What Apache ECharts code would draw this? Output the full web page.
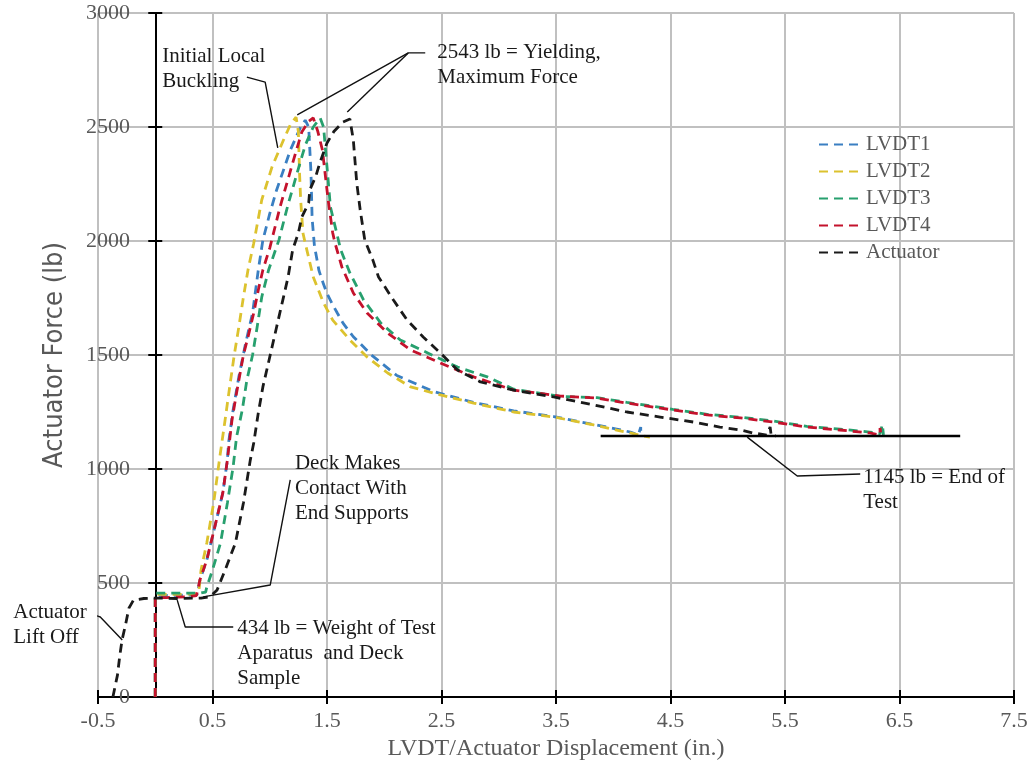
<!DOCTYPE html>
<html><head><meta charset="utf-8">
<script src="https://cdn.jsdelivr.net/npm/echarts@6/dist/echarts.min.js"></script>
<style>html,body{margin:0;padding:0;background:#fff}#c{width:1030px;height:771px}</style>
</head><body><div id="c"></div>
<script>
// ---------- data (displacement in., force lb) ----------
const seriesNames = ['LVDT1', 'LVDT2', 'LVDT3', 'LVDT4', 'Actuator'];
const seriesColors = ['#3a7fc2', '#dcc22e', '#27a06e', '#c4122c', '#1a1a1a'];

const lvdt1 = [[0,0],[0,445],[0.1,445],[0.2,446],[0.3,447],[0.37,450],[0.39,513],[0.45,601],[0.52,746],[0.59,895],[0.63,1039],[0.64,1114],[0.68,1259],[0.73,1404],[0.79,1553],[0.85,1684],[0.90,1873],[0.94,2004],[1.0,2120],[1.06,2224],[1.12,2311],[1.18,2399],[1.27,2500],[1.31,2530],[1.34,2500],[1.35,2400],[1.36,2300],[1.37,2100],[1.39,1980],[1.43,1870],[1.47,1810],[1.50,1770],[1.55,1720],[1.59,1684],[1.64,1640],[1.73,1580],[1.90,1495],[2.11,1410],[2.43,1340],[2.78,1292],[3.13,1255],[3.48,1230],[3.83,1195],[4.03,1175],[4.15,1162],[4.22,1150],[4.24,1184],[4.24,1140]];
const lvdt2 = [[0,0],[0,450],[0.1,450],[0.2,450],[0.3,451],[0.36,452],[0.38,461],[0.40,557],[0.45,675],[0.51,851],[0.56,1039],[0.61,1215],[0.65,1360],[0.69,1500],[0.73,1623],[0.77,1754],[0.81,1873],[0.86,1990],[0.93,2180],[1.02,2325],[1.12,2443],[1.18,2510],[1.23,2543],[1.25,2480],[1.26,2300],[1.27,2180],[1.29,2035],[1.31,1990],[1.38,1842],[1.47,1728],[1.55,1653],[1.70,1566],[1.85,1491],[2.03,1421],[2.23,1360],[2.49,1325],[2.78,1289],[3.13,1250],[3.48,1228],[3.83,1193],[4.03,1171],[4.15,1158],[4.26,1145],[4.32,1140]];
const lvdt3 = [[0,0],[0,456],[0.2,456],[0.4,456],[0.44,460],[0.45,482],[0.50,557],[0.57,675],[0.63,851],[0.68,1009],[0.71,1140],[0.76,1259],[0.80,1390],[0.85,1500],[0.89,1623],[0.93,1754],[0.99,1873],[1.08,2004],[1.16,2160],[1.24,2300],[1.31,2420],[1.38,2500],[1.44,2540],[1.47,2500],[1.50,2325],[1.53,2149],[1.62,1961],[1.70,1860],[1.82,1741],[1.97,1640],[2.14,1566],[2.38,1509],[2.64,1447],[2.90,1404],[3.13,1350],[3.54,1318],[3.86,1313],[4.12,1292],[4.52,1262],[4.82,1240],[5.11,1227],[5.40,1210],[5.69,1187],[5.98,1175],[6.24,1162],[6.33,1155],[6.35,1195],[6.36,1150]];
const lvdt4 = [[0,0],[0,436],[0.1,436],[0.2,438],[0.3,440],[0.36,445],[0.39,513],[0.45,601],[0.52,746],[0.59,895],[0.63,1039],[0.67,1215],[0.71,1333],[0.77,1500],[0.81,1579],[0.86,1684],[0.90,1785],[0.94,1873],[1.0,1969],[1.09,2149],[1.20,2342],[1.28,2478],[1.34,2525],[1.38,2540],[1.42,2480],[1.46,2399],[1.51,2180],[1.55,2035],[1.57,1991],[1.63,1886],[1.73,1772],[1.85,1684],[2.03,1596],[2.23,1522],[2.49,1465],[2.78,1404],[3.13,1346],[3.54,1320],[3.86,1311],[4.12,1289],[4.52,1259],[4.82,1237],[5.11,1224],[5.40,1206],[5.69,1184],[5.98,1171],[6.24,1158],[6.33,1149],[6.33,1180],[6.34,1145]];
const actuator = [[-0.37,0],[-0.33,96],[-0.31,180],[-0.29,250],[-0.26,316],[-0.23,390],[-0.19,425],[-0.1,432],[0,434],[0.2,432],[0.4,434],[0.48,440],[0.54,469],[0.61,557],[0.70,675],[0.77,851],[0.83,1039],[0.86,1114],[0.90,1246],[0.94,1360],[1.0,1491],[1.06,1623],[1.12,1754],[1.16,1842],[1.20,1961],[1.25,2035],[1.28,2105],[1.34,2167],[1.35,2224],[1.40,2281],[1.44,2346],[1.50,2430],[1.56,2480],[1.64,2522],[1.70,2535],[1.73,2443],[1.76,2254],[1.79,2136],[1.83,2004],[1.90,1917],[1.95,1842],[2.08,1741],[2.20,1653],[2.34,1579],[2.49,1509],[2.64,1434],[2.84,1382],[3.13,1346],[3.48,1316],[3.83,1281],[4.12,1250],[4.41,1228],[4.70,1206],[4.93,1184],[5.11,1171],[5.22,1158],[5.34,1149],[5.37,1184],[5.38,1145],[5.42,1145]];
const endLine = [[3.89,1145],[7.03,1145]];

// axis ticks
const xMin = -0.5, xMax = 7.5, xStep = 1;
const yMin = 0, yMax = 3000, yStep = 500;

// annotations: text anchor (top-left, data coords) and leader polylines (data coords)
const annoTexts = [
  {text: 'Initial Local\nBuckling', at: [0.061, 2864]},
  {text: '2543 lb = Yielding,\nMaximum Force', at: [2.463, 2880]},
  {text: 'Deck Makes\nContact With\nEnd Supports', at: [1.22, 1079]},
  {text: '434 lb = Weight of Test\nAparatus  and Deck\nSample', at: [0.716, 355]},
  {text: 'Actuator\nLift Off', at: [-1.24, 425]},
  {text: '1145 lb = End of\nTest', at: [6.183, 1018]}
];
const leaders = [
  [[0.80,2719],[0.96,2697],[1.07,2408]],
  [[2.358,2825],[2.210,2825],[1.240,2553]],
  [[2.210,2825],[1.677,2566]],
  [[1.179,952],[1.004,491],[0.419,439]],
  [[0.192,425],[0.262,307],[0.681,307]],
  [[-0.611,373],[-0.480,351],[-0.288,250]],
  [[6.157,978],[5.607,969],[5.170,1140]]
];

// ---------- chart ----------
const serif = '"Liberation Serif", "Times New Roman", serif';
const gray = '#595959';
const chart = echarts.init(document.getElementById('c'), null, {renderer: 'canvas'});

const curveData = [lvdt1, lvdt2, lvdt3, lvdt4, actuator];
const series = curveData.map((d, i) => ({
  name: seriesNames[i], type: 'line', data: d, symbol: 'none', showSymbol: false,
  lineStyle: {color: seriesColors[i], width: 2.8, type: [9, 6]},
  itemStyle: {color: seriesColors[i]},
  z: 3, animation: false
}));
series.push({
  name: 'end', type: 'line', data: endLine, symbol: 'none',
  lineStyle: {color: '#000', width: 2.5, type: 'solid'}, z: 4, animation: false, silent: true
});
leaders.forEach((pl, k) => series.push({
  name: 'leader' + k, type: 'line', data: pl, symbol: 'none', clip: false,
  lineStyle: {color: '#111', width: 1.4, type: 'solid'}, z: 5, animation: false, silent: true
}));

const axisLabelStyle = {color: gray, fontFamily: serif, fontSize: 22};
chart.setOption({
  animation: false,
  backgroundColor: '#fff',
  grid: {left: 98, right: 16, top: 13, bottom: 74, containLabel: false, outerBoundsMode: 'none'},
  legend: {
    data: seriesNames, orient: 'vertical', left: 813, top: 129,
    itemWidth: 42, itemHeight: 14, itemGap: 6,
    itemStyle: {opacity: 0},
    textStyle: {fontFamily: serif, fontSize: 21, color: gray}
  },
  xAxis: [{
    type: 'value', min: xMin, max: xMax, interval: xStep, position: 'bottom',
    axisLine: {onZero: true, lineStyle: {color: '#000', width: 2}},
    axisTick: {show: true, length: 7, lineStyle: {color: '#000', width: 2}},
    axisLabel: Object.assign({margin: 13, formatter: v => String(v)}, axisLabelStyle),
    splitLine: {show: true, lineStyle: {color: '#c0c0c0', width: 2}},
    name: 'LVDT/Actuator Displacement (in.)', nameLocation: 'middle', nameGap: 38,
    nameTextStyle: {color: gray, fontFamily: serif, fontSize: 24}
  }, {
    type: 'value', min: xMin, max: xMax, interval: xStep, position: 'bottom',
    axisLine: {onZero: true, lineStyle: {color: '#000', width: 2}},
    axisTick: {show: true, inside: true, length: 7, lineStyle: {color: '#000', width: 2}},
    axisLabel: {show: false}, splitLine: {show: false}
  }],
  yAxis: [{
    type: 'value', min: yMin, max: yMax, interval: yStep, position: 'left',
    axisLine: {show: true, onZero: true, lineStyle: {color: '#000', width: 2}},
    axisTick: {show: true, length: 7, lineStyle: {color: '#000', width: 2}},
    axisLabel: Object.assign({margin: -32, formatter: v => String(v)}, axisLabelStyle),
    splitLine: {show: true, lineStyle: {color: '#c0c0c0', width: 2}},
    name: 'Actuator Force (lb)', nameLocation: 'middle', nameGap: 30,
    nameTextStyle: {color: gray, fontFamily: '"DejaVu Sans Condensed", "Liberation Sans Narrow", sans-serif', fontSize: 27}
  }, {
    type: 'value', min: yMin, max: yMax, interval: yStep, position: 'left',
    axisLine: {show: true, onZero: true, lineStyle: {color: '#000', width: 2}},
    axisTick: {show: true, inside: true, length: 7, lineStyle: {color: '#000', width: 2}},
    axisLabel: {show: false}, splitLine: {show: false}
  }],
  series: series
});

const graphics = annoTexts.map(a => {
  const p = chart.convertToPixel({xAxisIndex: 0, yAxisIndex: 0}, a.at);
  return {
    type: 'text', x: p[0], y: p[1], z: 10,
    style: {text: a.text, fill: '#1a1a1a', font: '21px ' + serif, lineHeight: 25,
            textAlign: 'left', textVerticalAlign: 'top'}
  };
});
chart.setOption({graphic: graphics});
</script>
</body></html>
